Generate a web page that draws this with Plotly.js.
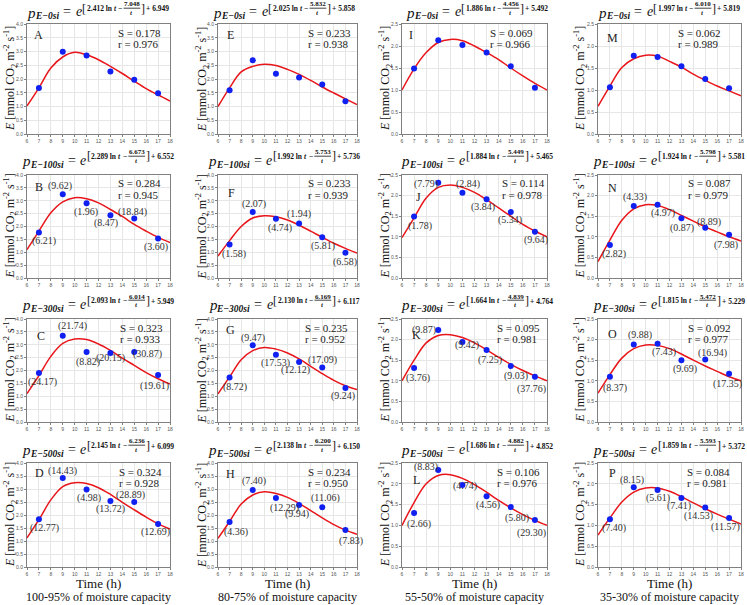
<!DOCTYPE html>
<html>
<head>
<meta charset="utf-8">
<script src="https://cdn.plot.ly/plotly-3.0.1.min.js"></script>
<style>html,body{margin:0;padding:0;background:#fff;}#chart{width:747px;height:605px;}</style>
</head>
<body>
<div id="chart"></div>
<script>
// ---------------- DATA ----------------
const hours = [7, 9, 11, 13, 15, 17];
const curveHours = [6, 7, 8, 9, 10, 11, 12, 13, 14, 15, 16, 17, 18];
const letters = ["A","E","I","M","B","F","J","N","C","G","K","O","D","H","L","P"];
const pressureTags = ["E−0si","E−0si","E−0si","E−0si","E−100si","E−100si","E−100si","E−100si","E−300si","E−300si","E−300si","E−300si","E−500si","E−500si","E−500si","E−500si"];
const coefA = ["2.412","2.025","1.886","1.997","2.289","1.992","1.884","1.924","2.093","2.130","1.664","1.815","2.145","2.138","1.686","1.859"];
const coefB = ["7.048","5.832","4.456","6.010","6.673","5.753","5.449","5.798","6.014","6.169","4.839","5.472","6.236","6.200","4.882","5.593"];
const coefC = ["6.949","5.858","5.492","5.819","6.552","5.736","5.465","5.581","5.949","6.117","4.764","5.229","6.099","6.150","4.852","5.372"];
const sValues = ["0.178","0.233","0.069","0.062","0.284","0.233","0.114","0.087","0.323","0.235","0.095","0.092","0.324","0.234","0.106","0.084"];
const rValues = ["0.976","0.938","0.966","0.989","0.945","0.939","0.978","0.979","0.933","0.952","0.981","0.977","0.928","0.950","0.976","0.981"];
const yTops = [4.0, 4.0, 2.5, 2.5, 4.0, 4.0, 2.5, 2.5, 4.0, 4.0, 2.5, 2.5, 4.0, 4.0, 2.5, 2.5];
const columnCaptions = ["100-95% of moisture capacity","80-75% of moisture capacity","55-50% of moisture capacity","35-30% of moisture capacity"];

// measured points
const pointsA = [1.67, 2.99, 2.85, 2.27, 1.97, 1.48];
const pointsE = [1.59, 2.68, 2.19, 2.05, 1.80, 1.19];
const pointsI = [1.49, 2.13, 2.02, 1.85, 1.54, 1.05];
const pointsM = [1.06, 1.78, 1.75, 1.54, 1.25, 1.04];
const pointsB = [1.77, 3.25, 2.90, 2.44, 2.31, 1.53];
const pointsF = [1.30, 2.56, 2.30, 2.12, 1.58, 0.98];
const pointsJ = [1.49, 2.31, 2.07, 1.91, 1.60, 1.12];
const pointsN = [0.80, 1.75, 1.78, 1.45, 1.22, 1.05];
const pointsC = [1.90, 3.35, 2.72, 2.68, 2.72, 1.83];
const pointsG = [1.73, 2.98, 2.61, 2.33, 2.12, 1.32];
const pointsK = [1.31, 2.23, 1.94, 1.75, 1.36, 1.10];
const pointsO = [1.10, 1.88, 1.90, 1.50, 1.52, 1.17];
const pointsD = [1.84, 3.42, 2.98, 2.54, 2.50, 1.65];
const pointsH = [1.73, 2.96, 2.65, 2.38, 2.30, 1.42];
const pointsL = [1.30, 2.33, 1.97, 1.70, 1.44, 1.13];
const pointsP = [1.15, 1.92, 1.85, 1.66, 1.43, 1.18];

// fitted curves
const curveA = [1.02, 1.68, 2.40, 2.80, 2.97, 2.88, 2.70, 2.46, 2.20, 1.92, 1.65, 1.42, 1.20];
const curveE = [1.00, 1.68, 2.26, 2.46, 2.54, 2.49, 2.35, 2.17, 1.95, 1.71, 1.49, 1.28, 1.07];
const curveI = [1.00, 1.48, 1.85, 2.08, 2.15, 2.12, 2.00, 1.85, 1.69, 1.50, 1.32, 1.15, 1.00];
const curveM = [0.63, 1.09, 1.51, 1.71, 1.79, 1.77, 1.65, 1.52, 1.36, 1.22, 1.09, 0.98, 0.87];
const curveB = [1.10, 1.82, 2.53, 2.96, 3.12, 3.08, 2.92, 2.66, 2.39, 2.08, 1.82, 1.58, 1.38];
const curveF = [0.85, 1.45, 2.00, 2.33, 2.42, 2.38, 2.25, 2.05, 1.82, 1.58, 1.35, 1.15, 0.97];
const curveJ = [0.98, 1.46, 1.94, 2.20, 2.26, 2.20, 2.08, 1.90, 1.70, 1.50, 1.30, 1.14, 1.00];
const curveN = [0.40, 0.92, 1.40, 1.68, 1.78, 1.76, 1.66, 1.52, 1.38, 1.24, 1.12, 1.00, 0.90];
const curveC = [1.10, 1.80, 2.55, 3.05, 3.22, 3.20, 3.03, 2.78, 2.48, 2.20, 1.92, 1.68, 1.47];
const curveG = [1.09, 1.75, 2.42, 2.77, 2.89, 2.83, 2.68, 2.45, 2.16, 1.88, 1.62, 1.41, 1.26];
const curveK = [1.00, 1.50, 1.92, 2.10, 2.12, 2.05, 1.92, 1.75, 1.57, 1.40, 1.25, 1.12, 1.00];
const curveO = [0.70, 1.15, 1.55, 1.78, 1.87, 1.86, 1.78, 1.65, 1.50, 1.36, 1.23, 1.10, 1.00];
const curveD = [1.12, 1.82, 2.58, 3.09, 3.24, 3.21, 3.05, 2.79, 2.49, 2.20, 1.92, 1.66, 1.46];
const curveH = [1.10, 1.75, 2.42, 2.77, 2.89, 2.83, 2.68, 2.45, 2.17, 1.89, 1.63, 1.42, 1.26];
const curveL = [1.00, 1.55, 2.00, 2.20, 2.22, 2.13, 1.98, 1.80, 1.60, 1.42, 1.26, 1.12, 1.00];
const curveP = [0.77, 1.18, 1.56, 1.80, 1.90, 1.90, 1.82, 1.69, 1.54, 1.40, 1.27, 1.15, 1.03];

// numbers printed in brackets next to the points
const labelsB = ["6.21","9.62","1.96","8.47","18.84","3.60"];
const labelsF = ["1.58","2.07","4.74","1.94","5.81","6.58"];
const labelsJ = ["1.78","7.79","2.84","3.84","5.34","9.64"];
const labelsN = ["2.82","4.33","4.97","0.87","8.89","7.98"];
const labelsC = ["24.17","21.74","8.82","20.15","30.87","19.61"];
const labelsG = ["8.72","9.47","17.53","12.12","17.09","9.24"];
const labelsK = ["3.76","9.87","9.42","7.25","9.03","37.76"];
const labelsO = ["8.37","9.88","7.43","9.69","16.94","17.35"];
const labelsD = ["12.77","14.43","4.98","13.72","28.89","12.69"];
const labelsH = ["4.36","7.40","12.29","9.94","11.06","7.83"];
const labelsL = ["2.66","8.83","4.74","4.56","5.80","29.30"];
const labelsP = ["7.40","8.15","5.61","7.41","14.53","11.57"];

const allPoints = [pointsA,pointsE,pointsI,pointsM,pointsB,pointsF,pointsJ,pointsN,pointsC,pointsG,pointsK,pointsO,pointsD,pointsH,pointsL,pointsP];
const allCurves = [curveA,curveE,curveI,curveM,curveB,curveF,curveJ,curveN,curveC,curveG,curveK,curveO,curveD,curveH,curveL,curveP];
const allLabels = [null,null,null,null,labelsB,labelsF,labelsJ,labelsN,labelsC,labelsG,labelsK,labelsO,labelsD,labelsH,labelsL,labelsP];

// ---------------- STYLE / LAYOUT ----------------
const W = 747, H = 605;
const colPx = [[27,170],[218,357],[402,547],[598,741]];
const rowPx = [[24,134],[175,278],[319,422],[463,567]];
const eqMainY = [12, 160, 304, 449];
const eqCenterX = [98, 284, 477, 669];
const yTitleX = [10, 202, 385, 580];
// letter position [dx from plot left, dy from plot top], S/r left offset (px)
const letterOff = [[11,11],[12,11],[9,11],[14,14],[12,12],[14,18],[16,22],[14,13],[14,17],[12,11],[15,16],[14,15],[12,10],[12,11],[15,17],[14,10]];
const statOff = [91,90,88,80,91,90,100,90,93,87,95,90,92,90,95,89];
// bracket label offsets [dx, dy] in pixels (dy positive = down)
const labelOffsets = [
  null,null,null,null,
  [[5,9],[-3,-8],[-1,9],[-4,8],[-2,-7],[-2,8]],   // B
  [[4,9],[1,-8],[4,9],[0,-9],[1,9],[0,9]],        // F
  [[6,9],[-12,1],[6,-9],[-4,8],[-1,8],[1,8]],     // J
  [[4,9],[1,-9],[5,8],[1,10],[4,-6],[-3,10]],     // N
  [[4,9],[10,-10],[1,10],[0,5],[13,2],[-4,11]],   // C
  [[5,10],[0,-7],[0,8],[-4,8],[0,-7],[-2,8]],     // G
  [[4,10],[-14,0],[5,3],[3,10],[5,10],[-3,12]],   // K
  [[5,11],[6,-10],[6,8],[4,9],[7,-6],[-2,10]],    // O
  [[6,9],[0,-7],[2,8],[0,8],[-4,-7],[-3,8]],      // D
  [[6,10],[1,-9],[9,10],[-2,9],[3,-9],[6,11]],    // H
  [[5,11],[-12,-3],[3,1],[1,9],[6,11],[-3,13]],   // L
  [[4,9],[-2,-7],[0,8],[-2,8],[-7,8],[-4,9]]      // P
];

const fontName = "Liberation Serif";
const serif = "'Liberation Serif', 'Times New Roman', Times, serif";
const sans = "'Liberation Sans', Arial, sans-serif";
const canvas = document.createElement("canvas");
const ctx = canvas.getContext("2d");
function textW(t, style, size) {
  ctx.font = style + " " + size + "px '" + fontName + "'";
  return ctx.measureText(t).width;
}
function wrap(t, style) {
  if (style.indexOf("bold") >= 0) t = "<b>" + t + "</b>";
  if (style.indexOf("italic") >= 0) t = "<i>" + t + "</i>";
  return t;
}

const traces = [];
const shapes = [];
const layout = {
  width: W, height: H,
  margin: {l:0, r:0, t:0, b:0},
  paper_bgcolor: "#fff", plot_bgcolor: "#fff",
  showlegend: false,
  annotations: [],
  shapes: shapes,
  font: {family: serif, color: "#222"}
};
function pxAnn(text, x, y, size, xanchor, color) {
  layout.annotations.push({xref: "paper", yref: "paper", x: x / W, y: 1 - y / H,
    xanchor: xanchor || "left", yanchor: "middle", showarrow: false, text: text,
    borderpad: 0, borderwidth: 0, font: {family: serif, size: size, color: color || "#111"}});
}

function drawEquation(i, row, col) {
  const my = eqMainY[row];
  const pieces = [
    {t: "p", st: "italic", s: 15, dy: 1, gap: 0},
    {t: pressureTags[i], st: "italic bold", s: 9.5, dy: 4.5, gap: 5},
    {t: "=", st: "", s: 14, dy: 0, gap: 5},
    {t: "e", st: "italic", s: 14, dy: 0, gap: 0.5},
    {t: "[", st: "", s: 12, dy: -3.5, gap: 0.3},
    {t: coefA[i] + " ln", st: "bold", s: 7.5, dy: -4, gap: 2},
    {t: "t", st: "italic bold", s: 7.5, dy: -4, gap: 2},
    {t: "−", st: "bold", s: 7.5, dy: -4, gap: 1.5},
    {frac: true, num: coefB[i], den: "t", s: 7, gap: 0.5},
    {t: "]", st: "", s: 12, dy: -3.5, gap: 1},
    {t: "+ " + coefC[i], st: "bold", s: 7.5, dy: -3, gap: 0}
  ];
  let total = 0;
  pieces.forEach(p => {
    if (p.frac) p.w = Math.max(textW(p.num, "bold", p.s), textW(p.den, "italic bold", p.s)) + 1;
    else p.w = textW(p.t, p.st, p.s);
    total += p.w + p.gap;
  });
  let x = eqCenterX[col] - total / 2;
  pieces.forEach(p => {
    if (p.frac) {
      const c = x + p.w / 2;
      pxAnn("<b>" + p.num + "</b>", c, my - 7.5, p.s, "center");
      pxAnn("<b><i>" + p.den + "</i></b>", c, my + 0.5, p.s, "center");
      shapes.push({type: "line", xref: "paper", yref: "paper",
        x0: x / W, x1: (x + p.w) / W, y0: 1 - (my - 3.8) / H, y1: 1 - (my - 3.8) / H,
        line: {color: "#111", width: 0.8}});
    } else {
      pxAnn(wrap(p.t, p.st), x, my + p.dy, p.s, "left");
    }
    x += p.w + p.gap;
  });
}

for (let i = 0; i < 16; i++) {
  const row = Math.floor(i / 4), col = i % 4;
  const n = i === 0 ? "" : String(i + 1);
  const xa = "x" + n, ya = "y" + n;
  const xd = [colPx[col][0] / W, colPx[col][1] / W];
  const yd = [1 - rowPx[row][1] / H, 1 - rowPx[row][0] / H];
  const axisCommon = {
    showline: true, mirror: true, linecolor: "#808080", linewidth: 1,
    showgrid: true, gridcolor: "#e6e6e6", gridwidth: 1, zeroline: false,
    ticks: "outside", ticklen: 2, tickcolor: "#808080", tickwidth: 1,
    tickfont: {family: sans, size: 5, color: "#555"}
  };
  layout["xaxis" + n] = Object.assign({}, axisCommon, {
    domain: xd, anchor: ya, range: [6, 18], dtick: 1, tick0: 6
  });
  layout["yaxis" + n] = Object.assign({}, axisCommon, {
    domain: yd, anchor: xa, range: [0, yTops[i]], dtick: 0.5, tick0: 0, tickformat: ".1f"
  });

  traces.push({
    x: curveHours, y: allCurves[i], xaxis: xa, yaxis: ya, type: "scatter", mode: "lines",
    line: {color: "#e8161b", width: 1.5, shape: "spline", smoothing: 1.0}, hoverinfo: "skip"
  });
  traces.push({
    x: hours, y: allPoints[i], xaxis: xa, yaxis: ya, type: "scatter", mode: "markers",
    marker: {color: "#1020f0", size: 6}, hoverinfo: "skip"
  });

  const left = colPx[col][0], top = rowPx[row][0];
  // panel letter, S and r
  pxAnn(letters[i], left + letterOff[i][0], top + letterOff[i][1], 12, "center", "#222");
  pxAnn("S = " + sValues[i], left + statOff[i], top + 8.5, 11, "left", "#222");
  pxAnn("r = " + rValues[i], left + statOff[i], top + 19.5, 11, "left", "#222");

  drawEquation(i, row, col);

  // y-axis title
  layout.annotations.push({xref: "paper", yref: "paper", x: yTitleX[col] / W,
    y: 1 - (rowPx[row][0] + rowPx[row][1]) / 2 / H, xanchor: "center", yanchor: "middle",
    textangle: -90, showarrow: false,
    text: "<i>E</i> [mmol CO<sub>2</sub> m<sup>-2</sup> s<sup>-1</sup>]",
    font: {family: serif, size: 12, color: "#111"}});

  // bracket labels
  const labs = allLabels[i];
  if (labs) {
    for (let k = 0; k < labs.length; k++) {
      const off = labelOffsets[i][k];
      layout.annotations.push({xref: xa, yref: ya, x: hours[k], y: allPoints[i][k],
        xanchor: "center", yanchor: "middle", showarrow: false,
        xshift: off[0], yshift: -off[1], text: "(" + labs[k] + ")",
        font: {family: serif, size: 10, color: "#333"}});
    }
  }
}

// bottom captions
for (let col = 0; col < 4; col++) {
  const cx = (colPx[col][0] + colPx[col][1]) / 2;
  pxAnn("Time (h)", cx, 583, 13, "center");
  pxAnn(columnCaptions[col], cx, 597, 12, "center");
}

Plotly.newPlot("chart", traces, layout, {staticPlot: true, displayModeBar: false});
</script>
</body>
</html>
